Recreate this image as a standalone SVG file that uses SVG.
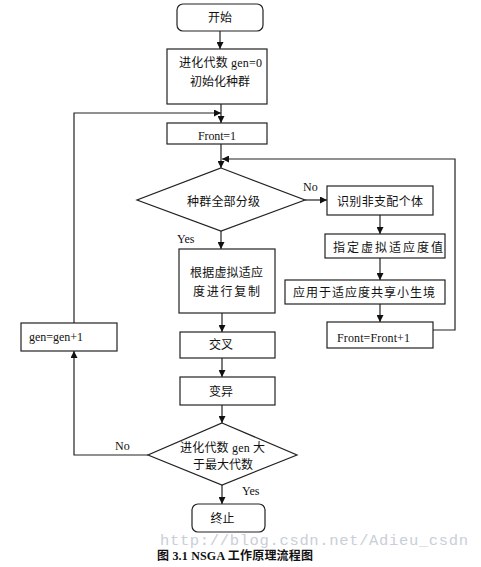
<svg xmlns="http://www.w3.org/2000/svg" width="481" height="567" viewBox="0 0 481 567">
<defs>
<marker id="ah" viewBox="0 0 10 10" refX="10" refY="5" markerWidth="7" markerHeight="7" markerUnits="userSpaceOnUse" orient="auto">
<path d="M0,0 L10,5 L0,10 z" fill="#111"/>
</marker>
<style>
.box{fill:#fff;stroke:#222;stroke-width:1.2}
.ln{fill:none;stroke:#222;stroke-width:1.2}
.ar{fill:none;stroke:#222;stroke-width:1.2;marker-end:url(#ah)}
text{font-family:"Liberation Serif","Noto Sans CJK SC",serif;font-size:12px;fill:#111}
.cap{font-weight:bold}
.wm{font-family:"Liberation Mono",monospace;font-size:15.5px;fill:#c9ced8}
</style>
</defs>
<rect width="481" height="567" fill="#fff"/>

<g id="connectors">
<path class="ar" d="M220,31 V49"/>
<path class="ar" d="M221,104 V123"/>
<path class="ar" d="M221,144 V168"/>
<path class="ar" d="M74,323 V113 H221"/>
<path class="ar" d="M433,330 H455 V159 H222"/>
<path class="ar" d="M305,200 H327"/>
<path class="ar" d="M380,215 V234"/>
<path class="ar" d="M380,258 V280"/>
<path class="ar" d="M380,304 V322"/>
<path class="ar" d="M221,231 V249"/>
<path class="ar" d="M222,313 V332"/>
<path class="ar" d="M222,358 V377"/>
<path class="ar" d="M222,405 V423"/>
<path class="ar" d="M148,455 H74 V351"/>
<path class="ar" d="M222,485 V504"/>
</g>

<g id="start">
<rect class="box" x="177" y="4" width="86" height="27" rx="6"/>
<text x="220" y="22" text-anchor="middle">开始</text>
</g>
<g id="init">
<rect class="box" x="167" y="49" width="100" height="55"/>
<text x="179" y="67" textLength="83" lengthAdjust="spacing">进化代数 gen=0</text>
<text x="190" y="86" textLength="60" lengthAdjust="spacing">初始化种群</text>
</g>
<g id="front1">
<rect class="box" x="167" y="123" width="100" height="21"/>
<text x="198" y="139.5" textLength="38" lengthAdjust="spacing">Front=1</text>
</g>
<g id="allranked">
<polygon class="box" points="221,168 305,200 221,231 137,200"/>
<text x="187" y="205.5" textLength="73" lengthAdjust="spacing">种群全部分级</text>
</g>
<g id="identify">
<rect class="box" x="327" y="186" width="106" height="29"/>
<text x="337" y="205.5" textLength="86" lengthAdjust="spacing">识别非支配个体</text>
</g>
<g id="assign">
<rect class="box" x="325" y="234" width="120" height="24"/>
<text x="333" y="251.5" textLength="110" lengthAdjust="spacing">指定虚拟适应度值</text>
</g>
<g id="share">
<rect class="box" x="285" y="280" width="160" height="24"/>
<text x="293" y="297" textLength="142" lengthAdjust="spacing">应用于适应度共享小生境</text>
</g>
<g id="frontinc">
<rect class="box" x="327" y="322" width="106" height="26"/>
<text x="337" y="341.5" textLength="73" lengthAdjust="spacing">Front=Front+1</text>
</g>
<g id="copy">
<rect class="box" x="179" y="249" width="96" height="64"/>
<text x="190" y="277" textLength="73" lengthAdjust="spacing">根据虚拟适应</text>
<text x="193" y="296" textLength="67" lengthAdjust="spacing">度进行复制</text>
</g>
<g id="crossover">
<rect class="box" x="180" y="332" width="95" height="26"/>
<text x="221" y="349" text-anchor="middle">交叉</text>
</g>
<g id="mutation">
<rect class="box" x="180" y="377" width="95" height="28"/>
<text x="221" y="396" text-anchor="middle">变异</text>
</g>
<g id="maxgen">
<polygon class="box" points="222,423 297,455 222,485 148,455"/>
<text x="180" y="451.5" textLength="85" lengthAdjust="spacing">进化代数 gen 大</text>
<text x="193" y="469" textLength="60" lengthAdjust="spacing">于最大代数</text>
</g>
<g id="geninc">
<rect class="box" x="21" y="323" width="96" height="28"/>
<text x="29" y="341" textLength="54" lengthAdjust="spacing">gen=gen+1</text>
</g>
<g id="end">
<rect class="box" x="192" y="504" width="73" height="28" rx="6"/>
<text x="222.5" y="523" text-anchor="middle">终止</text>
</g>

<g id="labels">
<text x="303" y="191">No</text>
<text x="177" y="243">Yes</text>
<text x="115" y="450">No</text>
<text x="242" y="495">Yes</text>
</g>

<text class="wm" x="160" y="545" textLength="308" lengthAdjust="spacing">http://blog.csdn.net/Adieu_csdn</text>
<text class="cap" x="157" y="560" textLength="156" lengthAdjust="spacing">图 3.1 NSGA 工作原理流程图</text>
</svg>
